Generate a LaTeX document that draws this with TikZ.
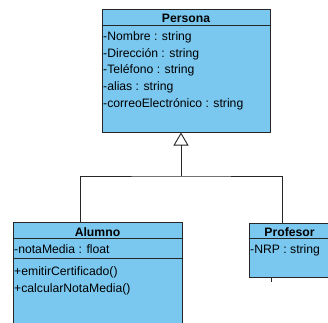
\documentclass[tikz,border=0pt]{standalone}
\usepackage{fontspec}
\setmainfont{Liberation Sans}
\usetikzlibrary{arrows.meta}
\definecolor{umlblue}{RGB}{122,200,240}
\begin{document}
\begin{tikzpicture}[x=1pt,y=-1pt,
  umlbox/.style={draw=black!85, line width=0.9pt, fill=umlblue, anchor=north west, inner sep=0pt},
  title/.style={font=\fontsize{12.2}{14}\selectfont\bfseries, anchor=base, inner sep=0pt},
  member/.style={font=\fontsize{12.2}{14}\selectfont, anchor=base west, inner sep=0pt},
  sep/.style={draw=black!85, line width=0.9pt},
  conn/.style={draw=black!85, line width=0.9pt}
]
\useasboundingbox (0,0) rectangle (328,322);
\clip (0,0) rectangle (328,322);
\fill[white] (0,0) rectangle (328,322);

% Persona
\node[umlbox, minimum width=168pt, minimum height=123pt] (persona) at (102,9) {};
\draw[sep] (102,25) -- (270,25);
\node[title] (tpersona) at (186,22.3) {Persona};
\node[member] (p1) at (103,40.7) {-Nombre : string};
\node[member] (p2) at (103,57.3) {-Dirección : string};
\node[member] (p3) at (103,73.9) {-Teléfono : string};
\node[member] (p4) at (103,90.5) {-alias : string};
\node[member] (p5) at (103,107.1) {-correoElectrónico : string};

% Alumno
\node[umlbox, minimum width=169pt, minimum height=110pt] (alumno) at (13,222) {};
\draw[sep] (13,238) -- (182,238);
\draw[sep] (13,258) -- (182,258);
\node[title] (talumno) at (97.5,236.6) {Alumno};
\node[member] (a1) at (14,253.3) {-notaMedia : float};
\node[member] (a2) at (14,275.2) {+emitirCertificado()};
\node[member] (a3) at (14,292.2) {+calcularNotaMedia()};

% Profesor
\node[umlbox, minimum width=86pt, minimum height=54pt] (profesor) at (249,223) {};
\draw[sep] (249,238.5) -- (335,238.5);
\node[title] (tprofesor) at (289.5,236.7) {Profesor};
\node[member] (r1) at (250,253.3) {-NRP : string};
\coordinate (stubtop) at (271,277);
\coordinate (stubend) at (271,282);
\draw[conn] (stubtop) -- (stubend);

% Generalization
\coordinate (j) at (181,176);
\coordinate (ja) at (80,222);
\coordinate (jp) at (282,223);
\draw[conn, -{Triangle[open, length=13pt, width=15pt, fill=white]}] (j) -- (181,132.5);
\draw[conn] (ja) |- (j) -| (jp);
\end{tikzpicture}
\end{document}
